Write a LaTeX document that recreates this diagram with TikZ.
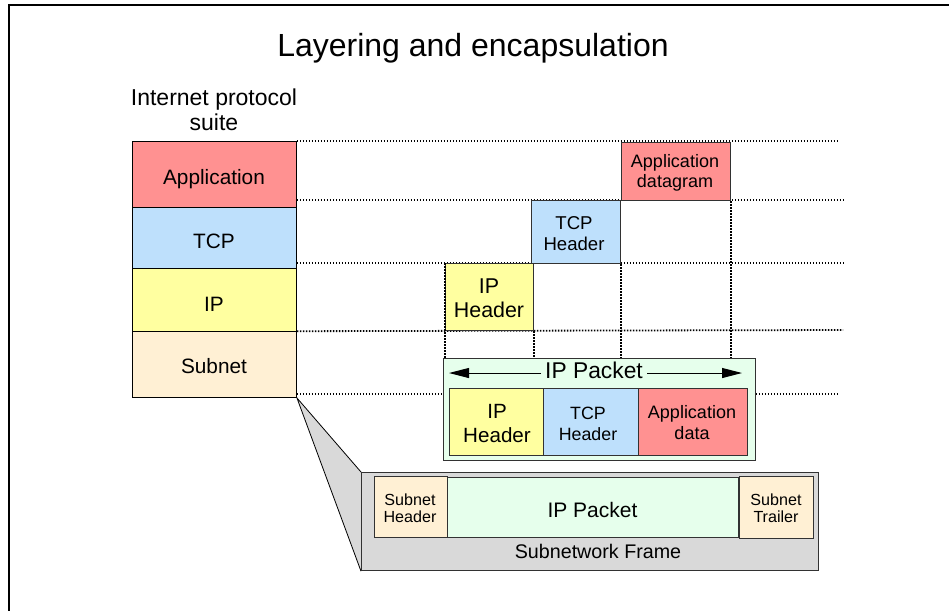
\documentclass[tikz,border=0pt]{standalone}
\usepackage{fontspec}
\setmainfont{Liberation Sans}
\usetikzlibrary{arrows.meta,backgrounds}
\definecolor{appred}{RGB}{255,145,145}
\definecolor{tcpblue}{RGB}{190,224,252}
\definecolor{ipyellow}{RGB}{255,255,160}
\definecolor{subpeach}{RGB}{255,240,212}
\definecolor{pktgreen}{RGB}{230,255,236}
\definecolor{framegray}{RGB}{217,217,217}
\definecolor{boxline}{RGB}{50,50,50}
\newcommand{\twoline}[2]{\begin{tabular}[t]{@{}c@{}}#1\\#2\end{tabular}}
\begin{document}
\begin{tikzpicture}[x=1pt,y=-1pt,
  fnt/.style 2 args={font=\fontsize{#1}{#2}\selectfont},
  txt/.style={inner sep=0pt, anchor=base, text=black},
  layer/.style={draw=black, line width=0.9pt, minimum width=164pt, inner sep=0pt, anchor=north west},
  pbox/.style={draw=boxline, line width=1.2pt, inner sep=0pt, anchor=north west},
  guide/.style={line width=1.8pt, dash pattern=on 1.5pt off 1.5pt},
  parrow/.style={line width=1pt, -{Triangle[length=20pt,width=10pt]}},
  frameline/.style={line width=2pt}]
\useasboundingbox (0,0) rectangle (949,611);

% outer frame (top and left edges visible)
\coordinate (frTR) at (949,5);
\coordinate (frTL) at (9,5);
\coordinate (frBL) at (9,611);
\draw[frameline] (frTR) -- (frTL) -- (frBL);

% title
\node[txt, fnt={32}{38}] (title) at (473,56) {Layering and encapsulation};

% protocol stack
\node[txt, fnt={23}{25}] (hdr) at (214,105) {\twoline{Internet protocol}{suite}};
\node[layer, fill=appred,   minimum height=66pt] (sApp) at (132,141) {};
\node[layer, fill=tcpblue,  minimum height=61pt] (sTCP) at (132,207) {};
\node[layer, fill=ipyellow, minimum height=63pt] (sIP)  at (132,268) {};
\node[layer, fill=subpeach, minimum height=66pt] (sSub) at (132,331) {};
\node[txt, fnt={20.8}{24}] (lApp) at (214,184) {Application};
\node[txt, fnt={20.8}{24}] (lTCP) at (214,248) {TCP};
\node[txt, fnt={20.8}{24}] (lIP)  at (214,311) {IP};
\node[txt, fnt={20.8}{24}] (lSub) at (214,373) {Subnet};

% encapsulation steps
\node[pbox, fill=appred,   minimum width=109pt, minimum height=58pt] (appD) at (621,142) {};
\node[pbox, fill=tcpblue,  minimum width=89pt,  minimum height=63pt] (tcpH) at (531,200) {};
\node[pbox, fill=ipyellow, minimum width=88pt,  minimum height=67pt] (ipH)  at (445,263) {};
\node[txt, fnt={18}{20}]     (lAppD) at (675,167.5) {\twoline{Application}{datagram}};
\node[txt, fnt={18.6}{21.4}] (lTcpH) at (574,229.3) {\twoline{TCP}{Header}};
\node[txt, fnt={21.4}{24}]   (lIpH)  at (489,293.3) {\twoline{IP}{Header}};

% IP packet
\node[pbox, fill=pktgreen, minimum width=312pt, minimum height=102pt] (pkt) at (443,358) {};
\node[pbox, fill=ipyellow, minimum width=94pt,  minimum height=67pt] (pIP)  at (449,388) {};
\node[pbox, fill=tcpblue,  minimum width=95pt,  minimum height=67pt] (pTCP) at (543,388) {};
\node[pbox, fill=appred,   minimum width=109pt, minimum height=67pt] (pApp) at (638,388) {};
\node[txt, fnt={22.8}{26}, inner xsep=4pt] (lPkt) at (594,378.3) {IP Packet};
\node[txt, fnt={20.6}{24}] (lpIP)  at (497,418.3) {\twoline{IP}{Header}};
\node[txt, fnt={17.8}{21}] (lpTCP) at (588,419)   {\twoline{TCP}{Header}};
\node[txt, fnt={18}{21}]   (lpApp) at (692,418.3) {\twoline{Application}{data}};
\coordinate (aL) at (449,373);
\coordinate (aR) at (742,373);
\draw[parrow] (lPkt.west |- aL) -- (aL);
\draw[parrow] (lPkt.east |- aR) -- (aR);

% subnetwork frame
\node[pbox, fill=framegray, minimum width=457pt, minimum height=98pt] (frm) at (361,472) {};
\node[pbox, fill=subpeach, minimum width=73pt,  minimum height=61pt] (fSH)  at (374,476) {};
\node[pbox, fill=pktgreen, minimum width=291pt, minimum height=60pt] (fPkt) at (447,477) {};
\node[pbox, fill=subpeach, minimum width=74pt,  minimum height=62pt] (fST)  at (739,476) {};
\node[txt, fnt={16.1}{17.7}] (lfSH)  at (410,505)   {\twoline{Subnet}{Header}};
\node[txt, fnt={21}{24}]     (lfPkt) at (592.5,517) {IP Packet};
\node[txt, fnt={16.1}{17.7}] (lfST)  at (776,505)   {\twoline{Subnet}{Trailer}};
\node[txt, fnt={19.7}{23}]   (lFrm)  at (598,558.5) {Subnetwork Frame};

% vertical guide on IP header edge
\draw[guide] (ipH.north west) -- (ipH.west |- pkt.north);

\begin{scope}[on background layer]
  % horizontal guides
  \coordinate (gE1) at (838,141);
  \coordinate (gE2) at (843,200);
  \coordinate (gE3) at (843,263);
  \coordinate (gE4) at (843,330);
  \coordinate (gE5) at (837,394);
  \draw[guide] (sApp.north east) -- (gE1);
  \draw[guide] (sApp.east |- tcpH.north) -- (gE2);
  \draw[guide] (sApp.east |- ipH.north) -- (gE3);
  \draw[guide] (sApp.east |- ipH.south) -- (gE4);
  \draw[guide] (sSub.east |- gE5) -- (gE5);
  % vertical guides
  \draw[guide] (ipH.south east) -- (ipH.south east |- pkt.north);
  \draw[guide] (tcpH.south east) -- (tcpH.south east |- pkt.north);
  \draw[guide] (appD.south east) -- (appD.south east |- pkt.north);
  % zoom wedge
  \fill[framegray] (sSub.south east) -- (frm.north west) -- (frm.south west) -- cycle;
  \draw[line width=0.8pt] (frm.north west) -- (sSub.south east) -- (frm.south west);
\end{scope}
\end{tikzpicture}
\end{document}
